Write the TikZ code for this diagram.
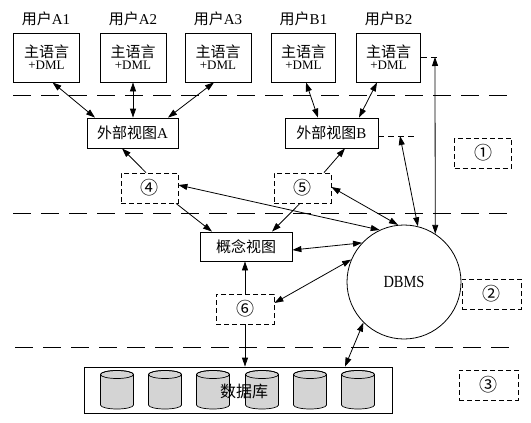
\documentclass[tikz,border=0pt]{standalone}
\usepackage{fontspec}
\setmainfont{Liberation Serif}
\newfontfamily\cjk{Noto Sans CJK SC}
\usetikzlibrary{arrows.meta,calc}
\definecolor{cylgray}{RGB}{212,212,212}
\newcommand{\hostlang}{{\cjk\fontsize{15}{17}\selectfont 主语言}\\[0pt]{\fontsize{13}{14}\selectfont +DML}}
\begin{document}
\begin{tikzpicture}[x=1pt,y=-1pt,
  >={Triangle[length=9pt,width=6pt]},
  box/.style={draw,line width=0.8pt,inner sep=0pt,align=center},
  ubox/.style={box,minimum width=66pt,minimum height=49pt},
  vbox/.style={box,minimum height=30pt,font=\cjk\fontsize{15}{17}\selectfont},
  dbox/.style={draw,line width=0.8pt,dash pattern=on 5pt off 3pt,minimum width=57pt,minimum height=30pt,inner sep=0pt,font=\cjk\fontsize{18}{20}\selectfont},
  ulabel/.style={inner sep=0pt,font=\fontsize{15}{17}\selectfont},
  sep/.style={line width=0.9pt,dash pattern=on 18pt off 10pt},
  tick/.style={line width=0.8pt,dash pattern=on 6pt off 4pt},
  ar/.style={line width=0.8pt,->},
  dar/.style={line width=0.8pt,<->}
]
\useasboundingbox (0,0) rectangle (531,423);
\fill[white] (0,0) rectangle (531,423);

% separators
\draw[sep] (13,95) -- (510,95);
\draw[sep] (13,213) -- (510,213);
\draw[sep] (15,347) -- (515,347);

% user labels
\node[ulabel] (la1) at (46,19) {{\cjk 用户}A1};
\node[ulabel] (la2) at (133,19) {{\cjk 用户}A2};
\node[ulabel] (la3) at (218,19) {{\cjk 用户}A3};
\node[ulabel] (lb1) at (303.5,19) {{\cjk 用户}B1};
\node[ulabel] (lb2) at (388.5,19) {{\cjk 用户}B2};

% user boxes
\node[ubox] (a1) at (46.5,57.5) {\hostlang};
\node[ubox] (a2) at (133,57.5) {\hostlang};
\node[ubox] (a3) at (218,57.5) {\hostlang};
\node[ubox,minimum width=64pt] (b1) at (303.5,57.5) {\hostlang};
\node[ubox,minimum width=64pt] (b2) at (388.5,57.5) {\hostlang};

% external views
\node[vbox,minimum width=91pt] (exta) at (132.5,133) {外部视图\fontspec{Liberation Serif}A};
\node[vbox,minimum width=93pt] (extb) at (331.5,133) {外部视图\fontspec{Liberation Serif}B};

% conceptual view
\node[vbox,minimum width=92pt,minimum height=29pt] (concept) at (246,246.5) {概念视图};

% DBMS
\node[draw,circle,line width=0.8pt,minimum size=114pt,inner sep=0pt,font=\fontsize{17}{19}\selectfont] (dbms) at (404,282) {\scalebox{0.85}[1]{DBMS}};

% database
\node[draw,line width=0.8pt,minimum width=308pt,minimum height=46pt,inner sep=0pt] (db) at (238,390) {};
\foreach \cx in {117,165,213,262,310,358} {
  \filldraw[fill=cylgray,line width=0.7pt] (\cx-16.5,374.5) -- (\cx-16.5,405)
    arc[start angle=180,end angle=360,x radius=16.5pt,y radius=4pt]
    -- (\cx+16.5,374.5)
    arc[start angle=0,end angle=180,x radius=16.5pt,y radius=4pt] -- cycle;
  \draw[line width=0.7pt] (\cx,374.5) ellipse[x radius=16.5pt,y radius=4pt];
}
\node[inner sep=0pt,font=\cjk\fontsize{16}{18}\selectfont] (dbl) at (244,391) {数据库};

% dashed mapping boxes
\node[dbox] (n1) at (483,153) {①};
\node[dbox,minimum width=59pt] (n2) at (491.5,294) {②};
\node[dbox,minimum width=59pt] (n3) at (488.5,385) {③};
\node[dbox] (n4) at (149.5,188) {④};
\node[dbox] (n5) at (302.5,188) {⑤};
\node[dbox,minimum width=58pt] (n6) at (245,309) {⑥};

% ticks
\coordinate (t1) at (440,57);
\coordinate (t1a) at (435,57);
\coordinate (t2) at (418,136);
\coordinate (t2a) at (400,136);
\draw[tick] (b2.east |- t1) -- (t1);
\draw[tick] (extb.east |- t2) -- (t2);

% arrows users <-> external views
\draw[dar] ([xshift=6pt]a1.south) -- ([xshift=-37.5pt]exta.north);
\draw[dar] (a2.south) -- (a2.south |- exta.north);
\draw[dar] ([xshift=-4pt]a3.south) -- ([xshift=35.5pt]exta.north);
\draw[dar] ([xshift=2.5pt]b1.south) -- ([xshift=-13.5pt]extb.north);
\draw[dar] ([xshift=-11.5pt]b2.south) -- ([xshift=27.5pt]extb.north);

% DBMS links
\draw[dar] (t1a) -- (dbms.57);
\draw[dar] (t2a) -- (dbms.76);
\draw[dar] ([yshift=3pt]n4.east) -- (dbms.115);
\draw[dar] ([yshift=1pt]n5.east) -- (dbms.96);
\draw[dar] ([yshift=-3.5pt]concept.east) -- (dbms.137);
\draw[dar] ([yshift=6pt]n6.east) -- (dbms.157);
\draw[dar] ([xshift=107pt]db.north) -- (dbms.225);

% mapping arrows
\draw[ar] ([xshift=-3.5pt]n4.north) -- ([xshift=-10.5pt]exta.south);
\draw[ar] ([xshift=26.5pt]n4.south) -- ([xshift=-34pt]concept.north);
\draw[ar] ([xshift=21.5pt]n5.north) -- ([xshift=13.5pt]extb.south);
\draw[ar] ([xshift=-2.5pt]n5.south) -- ([xshift=26pt]concept.north);
\draw[ar] (n6.north) -- (n6.north |- concept.south);
\draw[ar] (n6.south) -- (n6.south |- db.north);
\end{tikzpicture}
\end{document}
